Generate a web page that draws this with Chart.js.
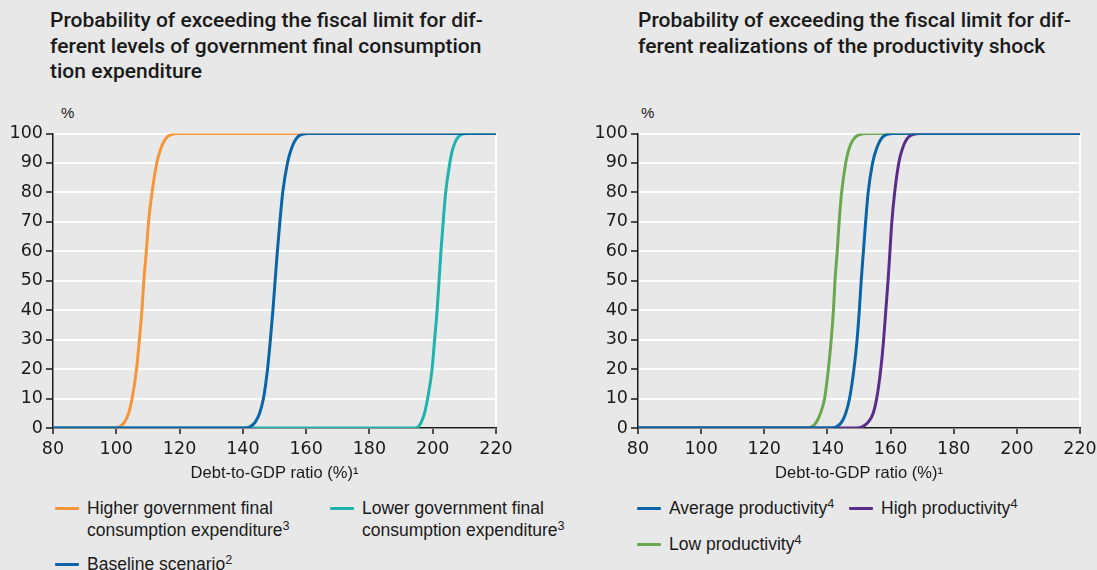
<!DOCTYPE html>
<html lang="en">
<head>
  <meta charset="UTF-8" />
  <title>Probability of exceeding the fiscal limit</title>
  <script src="https://cdn.jsdelivr.net/npm/chart.js"></script>
  <style>
    body {
      margin: 0;
      width: 1097px;
      height: 570px;
      overflow: hidden;
      position: relative;
      background: #e8e8e8;
      font-family: "Liberation Sans", Arial, sans-serif;
      color: #1a1a1a;
    }
    .title {
      position: absolute;
      top: 8px;
      font-family: Roboto, "Liberation Sans", sans-serif;
      font-weight: 500;
      font-size: 21px;
      line-height: 25.5px;
      white-space: nowrap;
    }
    .unit {
      position: absolute;
      top: 104px;
      font-size: 15px;
    }
    canvas {
      position: absolute;
      top: 120px;
    }
    .leg {
      position: absolute;
      font-size: 17.5px;
      line-height: 22px;
      white-space: nowrap;
    }
    .leg sup {
      font-size: 0.72em;
      line-height: 0;
      vertical-align: 0.5em;
    }
    .leg .sw {
      position: absolute;
      left: -32px;
      top: 10px;
      width: 24px;
      height: 3px;
      border-radius: 1px;
    }
  </style>
</head>
<body>
  <div class="title" style="left:50px">Probability of exceeding the fiscal limit for dif-<br>ferent levels of government final consumption<br>tion expenditure</div>
  <div class="title" style="left:638px">Probability of exceeding the fiscal limit for dif-<br>ferent realizations of the productivity shock</div>

  <div class="unit" style="left:61px">%</div>
  <div class="unit" style="left:641px">%</div>

  <canvas id="left" width="530" height="368" style="left:0px"></canvas>
  <canvas id="right" width="540" height="368" style="left:585px"></canvas>

  <div class="leg" style="left:87px; top:497px"><span class="sw" style="background:#f7953b"></span>Higher government final<br>consumption expenditure<sup>3</sup></div>
  <div class="leg" style="left:362px; top:497px"><span class="sw" style="background:#1fb3ad"></span>Lower government final<br>consumption expenditure<sup>3</sup></div>
  <div class="leg" style="left:87px; top:553px"><span class="sw" style="background:#0a64a8"></span>Baseline scenario<sup>2</sup></div>

  <div class="leg" style="left:669px; top:497px"><span class="sw" style="background:#0a64a8"></span>Average productivity<sup>4</sup></div>
  <div class="leg" style="left:881px; top:497px"><span class="sw" style="background:#5b2d8a"></span>High productivity<sup>4</sup></div>
  <div class="leg" style="left:669px; top:533px"><span class="sw" style="background:#6aa84f"></span>Low productivity<sup>4</sup></div>

  <script>
    // probability levels (%)
    const probLevels = [0, 0, 0.5, 2, 5, 10, 20, 30, 40, 50, 60, 70, 80, 90, 95, 99, 100, 100];

    // left panel: debt-to-GDP ratio (%) at which each level is reached
    const higherX   = [80, 99.8, 101.2, 102.6, 103.9, 105.0, 106.4, 107.3, 108.1, 108.7, 109.5, 110.2, 111.3, 112.8, 114.1, 116.3, 119.5, 220];
    const baselineX = [80, 140.5, 142.4, 143.9, 145.3, 146.5, 147.8, 148.7, 149.5, 150.2, 150.9, 151.7, 152.6, 154.1, 155.4, 157.5, 160.5, 220];
    const lowerX    = [80, 194.3, 195.5, 196.4, 197.4, 198.4, 199.8, 200.6, 201.4, 202.0, 202.6, 203.3, 204.1, 205.4, 206.4, 208.2, 210.8, 220];

    // right panel
    const averageX = [80, 141.0, 143.0, 144.5, 145.8, 147.0, 148.4, 149.4, 150.1, 150.7, 151.4, 152.1, 152.9, 154.3, 155.6, 157.7, 160.8, 220];
    const highX    = [80, 149.0, 151.2, 152.9, 154.5, 155.6, 156.9, 157.8, 158.5, 159.2, 159.8, 160.4, 161.3, 162.6, 163.8, 165.9, 169.3, 220];
    const lowX     = [80, 133.5, 135.2, 136.5, 137.8, 139.1, 140.3, 141.2, 141.9, 142.4, 143.1, 143.7, 144.5, 145.8, 146.9, 149.1, 152.4, 220];

    const xTicks = [80, 100, 120, 140, 160, 180, 200, 220];
    const yTicks = [0, 10, 20, 30, 40, 50, 60, 70, 80, 90, 100];

    const ink = '#1a1a1a';
    const tickFont = { family: '"DejaVu Sans", Verdana, sans-serif', size: 17.5 };

    function points(xs) {
      return xs.map((x, i) => ({ x: x, y: probLevels[i] }));
    }

    function line(label, xs, color) {
      return {
        label: label,
        data: points(xs),
        borderColor: color,
        borderWidth: 3,
        pointRadius: 0,
        cubicInterpolationMode: 'monotone',
        fill: false
      };
    }

    function makeChart(id, datasets, padRight) {
      return new Chart(document.getElementById(id), {
        type: 'line',
        data: { datasets: datasets },
        options: {
          responsive: false,
          animation: false,
          devicePixelRatio: 1,
          layout: { padding: { left: 0, top: 13, right: padRight, bottom: 0 } },
          plugins: { legend: { display: false }, tooltip: { enabled: false } },
          scales: {
            x: {
              type: 'linear',
              min: 80,
              max: 220,
              afterBuildTicks: s => { s.ticks = xTicks.map(v => ({ value: v })); },
              afterFit: s => { s.height = 60; },
              ticks: { color: ink, font: tickFont, padding: 5, maxRotation: 0 },
              grid: {
                color: c => (c.tick && c.tick.value === 220) ? '#ffffff' : 'rgba(0,0,0,0)',
                lineWidth: 2,
                tickColor: ink,
                tickLength: 6,
                tickWidth: 1.5
              },
              border: { color: ink, width: 1.5 },
              title: {
                display: true,
                text: 'Debt-to-GDP ratio (%)¹',
                color: ink,
                font: { family: '"Liberation Sans", Arial, sans-serif', size: 16.5 },
                padding: { top: 0, bottom: 5 }
              }
            },
            y: {
              min: 0,
              max: 100,
              afterBuildTicks: s => { s.ticks = yTicks.map(v => ({ value: v })); },
              afterFit: s => { s.width = 53; },
              ticks: { color: ink, font: tickFont, padding: 3 },
              grid: {
                color: '#ffffff',
                lineWidth: 2,
                tickColor: ink,
                tickLength: 7,
                tickWidth: 1.5
              },
              border: { color: ink, width: 1.5 }
            }
          }
        }
      });
    }

    // first dataset is drawn on top
    makeChart('left', [
      line('Baseline scenario', baselineX, '#0a64a8'),
      line('Lower government final consumption expenditure', lowerX, '#1fb3ad'),
      line('Higher government final consumption expenditure', higherX, '#f7953b')
    ], 34);

    makeChart('right', [
      line('Average productivity', averageX, '#0a64a8'),
      line('High productivity', highX, '#5b2d8a'),
      line('Low productivity', lowX, '#6aa84f')
    ], 45);
  </script>
</body>
</html>
